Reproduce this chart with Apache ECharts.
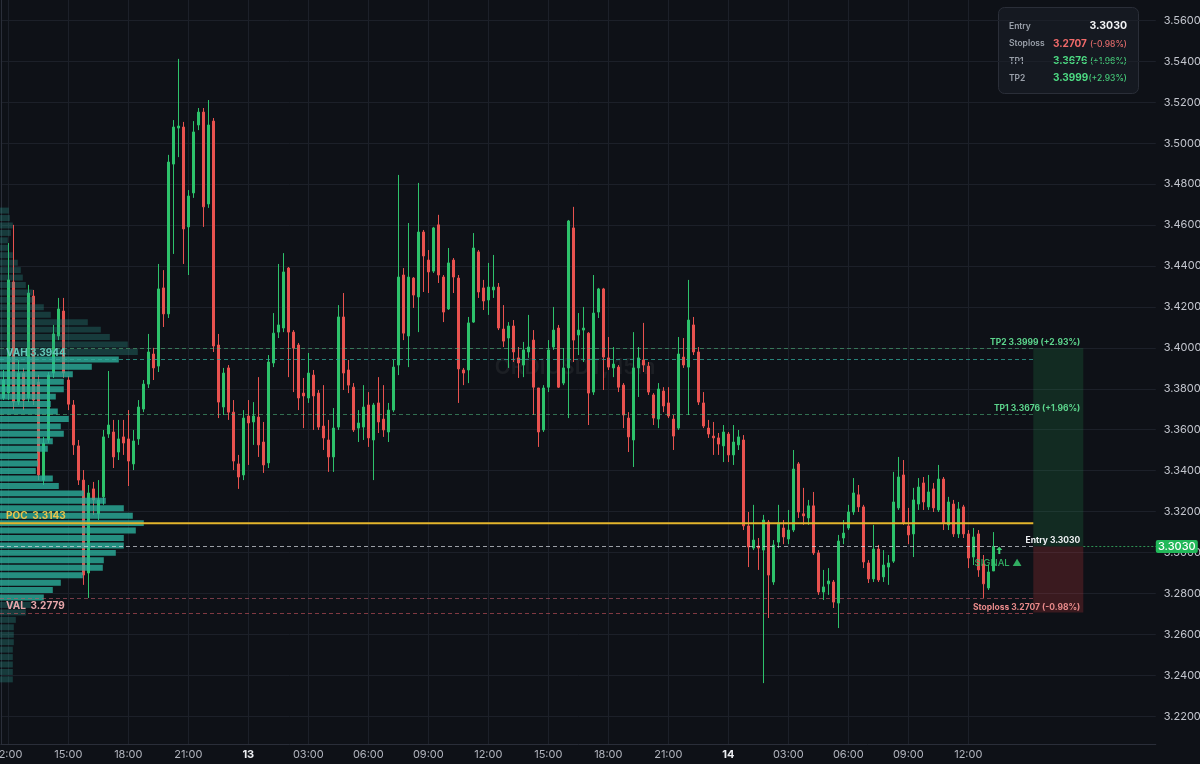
<!DOCTYPE html>
<html><head><meta charset="utf-8">
<script src="https://cdn.jsdelivr.net/npm/echarts@6/dist/echarts.min.js"></script>
<style>html,body{margin:0;padding:0;background:#0e1117;}#chart{width:1200px;height:764px;}</style>
</head><body><div id="chart"></div>
<script>
// ---------- DATA ----------
const symbolName = 'ORDIUSDT, 15m';
const startDay = 12, startHour = 11, startMinute = 45, stepMinutes = 15;
const futureSlots = 32;

const opens = [3.3755,3.3779,3.4322,3.3735,3.3877,3.3755,3.4253,3.3833,3.3354,3.3550,3.3877,3.4058,3.4180,3.3843,3.3721,3.3521,3.3354,3.2900,3.3311,3.3189,
3.3272,3.3579,3.3589,3.3491,3.3565,3.3555,3.3433,3.3555,3.3701,3.3823,3.3970,3.3911,3.4293,3.4166,3.4898,3.5074,3.5079,3.4591,3.4757,3.5089,
3.5152,3.4703,3.5108,3.4014,3.3711,3.3902,3.3686,3.3433,3.3379,3.3667,3.3638,3.3662,3.3540,3.3438,3.3926,3.4077,3.4097,3.4390,3.4077,3.4014,
3.3779,3.3755,3.3867,3.3779,3.3618,3.3550,3.3467,3.3613,3.4151,3.3892,3.3808,3.3608,3.3613,3.3721,3.3550,3.3731,3.3652,3.3589,3.3696,3.3916,
3.4356,3.4058,3.4341,3.4249,3.4566,3.4429,3.4375,3.4601,3.4346,3.4190,3.4429,3.4341,3.3892,3.3892,3.4126,3.4469,3.4293,3.4234,3.4283,3.4297,
3.4092,3.4048,3.4107,3.3951,3.3916,3.3980,3.4038,3.3804,3.3599,3.3808,3.4004,3.4097,3.3828,3.3902,3.4586,3.4063,3.4087,3.4072,3.3784,3.4175,
3.4288,3.3951,3.3902,3.3906,3.3818,3.3657,3.3550,3.3902,3.3941,3.3911,3.3770,3.3652,3.3789,3.3731,3.3652,3.3608,3.3955,3.3906,3.4112,3.3980,
3.3731,3.3608,3.3569,3.3560,3.3521,3.3579,3.3477,3.3526,3.3550,3.3130,3.3022,3.3032,3.3012,3.3149,3.2856,3.3051,3.3120,3.3066,3.3110,3.3433,
3.3189,3.3169,3.3228,3.2998,3.2807,3.2847,3.2856,3.2753,3.3071,3.3120,3.3198,3.3282,3.3223,3.2949,3.2871,3.3017,3.2881,3.2929,3.2958,3.3218,
3.3379,3.3130,3.3091,3.3237,3.3340,3.3223,3.3311,3.3208,3.3359,3.3135,3.3237,3.3091,3.3223,3.3091,3.2978,3.3091,3.2944,3.2827,3.2910];

const closes = [3.3843,3.4332,3.3735,3.3877,3.3745,3.4268,3.3745,3.3379,3.3535,3.3867,3.4068,3.4190,3.3877,3.3725,3.3526,3.3354,3.2890,3.3291,3.3257,3.3257,
3.3565,3.3623,3.3467,3.3555,3.3535,3.3447,3.3545,3.3711,3.3823,3.3980,3.3902,3.4288,3.4166,3.4908,3.5079,3.5084,3.4581,3.4742,3.5055,3.5152,
3.4689,3.5089,3.4009,3.3735,3.3877,3.3686,3.3447,3.3369,3.3657,3.3633,3.3667,3.3526,3.3428,3.3931,3.4072,3.4112,3.4371,3.4077,3.3999,3.3755,
3.3765,3.3877,3.3765,3.3613,3.3560,3.3467,3.3608,3.4151,3.3877,3.3818,3.3599,3.3633,3.3711,3.3560,3.3721,3.3638,3.3599,3.3696,3.3906,3.4346,
3.4072,3.4346,3.4258,3.4566,3.4449,3.4371,3.4586,3.4356,3.4175,3.4415,3.4346,3.3897,3.3877,3.4122,3.4488,3.4273,3.4229,3.4297,3.4297,3.4097,
3.4033,3.4107,3.3980,3.3926,3.3990,3.4004,3.3808,3.3589,3.3804,3.3990,3.4087,3.3808,3.3902,3.4620,3.4038,3.4087,3.4097,3.3779,3.4170,3.4288,
3.3955,3.3906,3.3921,3.3808,3.3672,3.3565,3.3902,3.3951,3.3916,3.3784,3.3657,3.3799,3.3716,3.3667,3.3569,3.3970,3.3916,3.4136,3.3980,3.3735,
3.3618,3.3579,3.3560,3.3530,3.3589,3.3477,3.3540,3.3565,3.3130,3.3027,3.3061,3.3022,3.3159,3.2890,3.3037,3.3145,3.3076,3.3110,3.3408,3.3198,
3.3179,3.3228,3.2998,3.2807,3.2832,3.2861,3.2758,3.3056,3.3095,3.3198,3.3291,3.3223,3.2954,3.2871,3.3017,3.2866,3.2939,3.2949,3.3247,3.3369,
3.3145,3.3086,3.3257,3.3320,3.3247,3.3296,3.3218,3.3359,3.3145,3.3247,3.3091,3.3213,3.3091,3.2973,3.3076,3.2915,3.2847,3.2905,3.3030];

const lows = [3.3745,3.3745,3.3696,3.3721,3.3696,3.3735,3.3721,3.3354,3.3330,3.3535,3.3853,3.4038,3.3853,3.3696,3.3477,3.3330,3.2842,3.2778,3.3184,3.3159,
3.3233,3.3560,3.3413,3.3452,3.3477,3.3325,3.3403,3.3526,3.3686,3.3804,3.3843,3.3882,3.4102,3.4146,3.4459,3.4932,3.4410,3.4356,3.4733,3.5064,
3.4591,3.4684,3.3980,3.3657,3.3672,3.3648,3.3403,3.3311,3.3354,3.3428,3.3526,3.3467,3.3389,3.3413,3.3906,3.4048,3.4077,3.3857,3.3784,3.3696,
3.3608,3.3731,3.3599,3.3599,3.3501,3.3394,3.3394,3.3599,3.3794,3.3779,3.3589,3.3540,3.3550,3.3516,3.3354,3.3584,3.3565,3.3540,3.3686,3.3867,
3.4038,3.3906,3.4195,3.4077,3.4273,3.4268,3.4366,3.4317,3.4126,3.4185,3.4268,3.3731,3.3818,3.3828,3.4122,3.4244,3.4185,3.4161,3.4244,3.4087,
3.4004,3.3902,3.3931,3.3853,3.3857,3.3951,3.3672,3.3516,3.3589,3.3784,3.3990,3.3804,3.3818,3.3657,3.3931,3.3965,3.3931,3.3623,3.3770,3.4146,
3.3794,3.3892,3.3857,3.3784,3.3608,3.3491,3.3418,3.3760,3.3882,3.3770,3.3623,3.3608,3.3686,3.3657,3.3501,3.3599,3.3902,3.3672,3.3965,3.3721,
3.3608,3.3560,3.3477,3.3477,3.3442,3.3442,3.3428,3.3501,3.3110,3.2929,3.3012,3.2915,3.2362,3.2680,3.2842,3.3022,3.3041,3.3041,3.3100,3.3169,
3.3135,3.3135,3.2988,3.2793,3.2768,3.2793,3.2729,3.2631,3.3041,3.3110,3.3184,3.3198,3.2924,3.2851,3.2856,3.2856,3.2856,3.2842,3.2949,3.3208,
3.3135,3.3041,3.2978,3.3208,3.3208,3.3208,3.3198,3.3198,3.3110,3.3110,3.3076,3.3071,3.3071,3.2924,3.2939,3.2881,3.2778,3.2817,3.2910];

const highs = [3.3892,3.4512,3.4601,3.3941,3.3902,3.4308,3.4283,3.3867,3.3565,3.3882,3.4112,3.4244,3.4244,3.3863,3.3745,3.3550,3.3403,3.3330,3.3345,3.3354,
3.3599,3.3887,3.3648,3.3648,3.3648,3.3696,3.3599,3.3745,3.3843,3.4068,3.4000,3.4410,3.4380,3.4943,3.5113,3.5412,3.5104,3.4771,3.5108,3.5172,
3.5172,3.5211,3.5123,3.4068,3.3902,3.3916,3.3745,3.3477,3.3696,3.3745,3.3735,3.3857,3.3638,3.3965,3.4170,3.4410,3.4463,3.4395,3.4087,3.4024,
3.3853,3.3975,3.3892,3.3794,3.3818,3.3648,3.3706,3.4209,3.4268,3.3941,3.3828,3.3696,3.3818,3.3784,3.3731,3.3857,3.3818,3.3731,3.3941,3.4845,
3.4390,3.4610,3.4346,3.4806,3.4576,3.4478,3.4591,3.4650,3.4356,3.4488,3.4439,3.4356,3.3902,3.4151,3.4561,3.4478,3.4332,3.4415,3.4454,3.4317,
3.4209,3.4126,3.4136,3.4004,3.4029,3.4161,3.4087,3.3804,3.3818,3.4038,3.4200,3.4112,3.3999,3.4625,3.4689,3.4170,3.4200,3.4077,3.4356,3.4293,
3.4293,3.4053,3.4004,3.3916,3.3828,3.3686,3.4077,3.4004,3.4122,3.3931,3.3779,3.3828,3.3808,3.3808,3.3672,3.4053,3.4048,3.4332,3.4151,3.4004,
3.3784,3.3648,3.3638,3.3584,3.3623,3.3589,3.3623,3.3599,3.3574,3.3198,3.3233,3.3071,3.3184,3.3159,3.3061,3.3233,3.3159,3.3208,3.3501,3.3442,
3.3316,3.3257,3.3296,3.3012,3.2915,3.2924,3.2866,3.3086,3.3159,3.3233,3.3364,3.3330,3.3233,3.2963,3.3135,3.3037,3.3012,3.2988,3.3394,3.3467,
3.3452,3.3218,3.3316,3.3364,3.3369,3.3379,3.3340,3.3428,3.3369,3.3272,3.3257,3.3247,3.3233,3.3110,3.3120,3.3110,3.2988,3.2939,3.3100];

// price axis ticks (labels on the right)
const yTicks = [3.22,3.24,3.26,3.28,3.30,3.32,3.34,3.36,3.38,3.40,3.42,3.44,3.46,3.48,3.50,3.52,3.54,3.56];
const yMin = 3.20645, yMax = 3.56997;

// volume profile (top bin first), price range of the profile
const profileVolumes = [8,9,12,10,7,8,12,17,20,22,25,32,33,43,50,87,100,109,127,137,
118,91,72,63,63,55,50,57,68,60,63,52,47,37,37,35,52,58,83,105,
123,132,143,135,123,123,115,103,102,82,60,52,43,30,25,15,13,13,13,12,
12,12,12,12];
const profileHigh = 3.4689, profileLow = 3.2362;
const VAH = 3.3944, POC = 3.3143, VAL = 3.2779;

// trade levels
const entry = 3.3030, stoploss = 3.2707, tp1 = 3.3676, tp2 = 3.3999;
const levelNames  = ['TP2', 'VAH', 'TP1', 'POC', 'Entry', 'VAL', 'Stoploss'];
const levelPrices = [tp2, VAH, tp1, POC, entry, VAL, stoploss];

// ---------- BUILD ----------
const pad = n => (n < 10 ? '0' : '') + n;
const nCandles = opens.length;
const categories = [];
const timeInfo = [];
for (let k = 0; k < nCandles + futureSlots; k++) {
  const tot = startHour * 60 + startMinute + k * stepMinutes;
  const day = startDay + Math.floor(tot / 1440);
  const h = Math.floor((tot % 1440) / 60), m = tot % 60;
  timeInfo.push({day, h, m});
  categories.push(day + ' ' + pad(h) + ':' + pad(m));
}
const isMajor = i => i < nCandles && timeInfo[i].m === 0 && timeInfo[i].h % 3 === 0;
const majorIdx = [];
for (let i = 0; i < nCandles; i++) if (isMajor(i)) majorIdx.push(i);

const candleData = opens.map((o, i) => [o, closes[i], lows[i], highs[i]]);
const binSize = (profileHigh - profileLow) / profileVolumes.length;
const profileData = profileVolumes.map((v, k) => [v, profileHigh - (k + 1) * binSize, profileHigh - k * binSize]);
const pct = p => { const v = (p / entry - 1) * 100; return (v >= 0 ? '+' : '') + v.toFixed(2) + '%'; };
const fmt = p => p.toFixed(4);

const zoneStart = 206, zoneEnd = 216;
const signalIndex = nCandles - 1;

const GREEN = '#2dc26b', RED = '#e8524f';
const FONT = 'Inter, Roboto, "Noto Sans", sans-serif';
const levelStyle = {
  TP2:      {stroke:'rgba(80,190,130,0.55)', dash:[4,3], w:1, side:'right', color:'#5cd68d', text:'TP2 ' + fmt(tp2) + ' (' + pct(tp2) + ')'},
  VAH:      {stroke:'rgba(50,170,155,0.75)', dash:[4,3], w:1, side:'left',  color:'#63c7b8', text:'VAH ' + fmt(VAH)},
  TP1:      {stroke:'rgba(80,190,130,0.55)', dash:[4,3], w:1, side:'right', color:'#5cd68d', text:'TP1 ' + fmt(tp1) + ' (' + pct(tp1) + ')'},
  POC:      {stroke:'#e3b52c', dash:null, w:2, side:'left', color:'#e8c44c', text:'POC  ' + fmt(POC)},
  Entry:    {stroke:'rgba(215,220,228,0.7)', dash:[4,3], w:1, side:'right', color:'#eef0f3', text:'Entry ' + fmt(entry)},
  VAL:      {stroke:'rgba(190,90,105,0.6)', dash:[4,3], w:1, side:'left', color:'#e6a6aa', text:'VAL  ' + fmt(VAL), below:true},
  Stoploss: {stroke:'rgba(205,85,95,0.6)', dash:[4,3], w:1, side:'right', color:'#e88a8a', text:'Stoploss ' + fmt(stoploss) + ' (' + pct(stoploss) + ')'}
};

const boxLabel = {fill: '#9aa0aa', fontSize: 8.5, fontWeight: 600, fontFamily: FONT, verticalAlign: 'middle'};
const boxValue = (text, fill) => ({text, fill, fontSize: 10, fontWeight: 'bold', fontFamily: FONT, verticalAlign: 'middle'});
const boxPct = (text, fill) => ({text, fill, fontSize: 8.5, fontWeight: 500, fontFamily: FONT, align: 'right', verticalAlign: 'middle'});

const chart = echarts.init(document.getElementById('chart'), null, {renderer:'canvas'});
const option = {
  backgroundColor: '#0e1117',
  animation: false,
  textStyle: {fontFamily: FONT},
  grid: {left: 0.8, right: 44.2, top: 0, bottom: 20, containLabel: false, outerBoundsMode: 'none'},
  xAxis: [{
    type: 'category', data: categories, boundaryGap: true,
    axisLine: {show: true, lineStyle: {color: '#2a2e39'}},
    axisTick: {show: false},
    splitLine: {show: false},
    axisLabel: {
      interval: (i) => isMajor(i), margin: 5, color: '#b2b5be', fontSize: 11, fontFamily: FONT,
      formatter: (v, i) => { const t = timeInfo[i]; return t.h === 0 ? '{d|' + t.day + '}' : pad(t.h) + ':00'; },
      rich: {d: {color: '#eceef2', fontWeight: 'bold', fontSize: 11, fontFamily: FONT}}
    }
  }, {
    type: 'value', min: 0, max: 1155, show: false, gridIndex: 0
  }],
  yAxis: {
    type: 'value', position: 'right', min: yMin, max: yMax, scale: true,
    axisLine: {show: true, lineStyle: {color: '#2a2e39'}},
    axisTick: {show: false, customValues: yTicks},
    axisLabel: {customValues: yTicks, formatter: v => v.toFixed(4), color: '#c3c6ce', fontSize: 11, margin: 8, fontFamily: FONT},
    splitLine: {show: true, lineStyle: {color: '#1c2029', width: 1}}
  },
  graphic: [
    {type: 'text', x: 575, y: 368, z: 0, silent: true,
     style: {text: symbolName, fill: 'rgba(255,255,255,0.06)', fontSize: 21, fontWeight: 600, fontFamily: FONT, align: 'center', verticalAlign: 'middle'}},
    {type: 'group', x: 998, y: 7, z: 100, children: [
      {type: 'rect', shape: {x: 0.5, y: 0.5, width: 140, height: 86, r: 6}, style: {fill: '#151921', stroke: '#2a2e38', lineWidth: 1}},
      {type: 'text', x: 11, y: 19, style: Object.assign({text: 'Entry'}, boxLabel)},
      {type: 'text', x: 129, y: 19, style: Object.assign(boxValue(fmt(entry), '#f2f3f5'), {align: 'right', fontSize: 10.5})},
      {type: 'text', x: 11, y: 36.5, style: Object.assign({text: 'Stoploss'}, boxLabel)},
      {type: 'text', x: 55, y: 36.5, style: boxValue(fmt(stoploss), '#f06a6a')},
      {type: 'text', x: 129, y: 37, style: boxPct('(' + pct(stoploss) + ')', '#e06a6a')},
      {type: 'text', x: 11, y: 54, style: Object.assign({text: 'TP1'}, boxLabel)},
      {type: 'text', x: 55, y: 54, style: boxValue(fmt(tp1), '#4ddb83')},
      {type: 'text', x: 129, y: 54.5, style: boxPct('(' + pct(tp1) + ')', '#45c878')},
      {type: 'text', x: 11, y: 71, style: Object.assign({text: 'TP2'}, boxLabel)},
      {type: 'text', x: 55, y: 71, style: boxValue(fmt(tp2), '#4ddb83')},
      {type: 'text', x: 129, y: 71.5, style: boxPct('(' + pct(tp2) + ')', '#45c878')}
    ]}
  ],
  series: [
    { // vertical time grid
      type: 'custom', name: 'timeGrid', silent: true, z: 0,
      data: majorIdx.map(i => [i, yMin]), encode: {x: 0, y: 1},
      renderItem: (params, api) => {
        const cs = params.coordSys; const x = Math.round(api.coord([api.value(0), yMin])[0]) + 0.5;
        return {type: 'line', shape: {x1: x, y1: cs.y, x2: x, y2: cs.y + cs.height}, style: {stroke: '#1c2029', lineWidth: 1}};
      }
    },
    { // TP / SL zones
      type: 'custom', name: 'zones', silent: true, z: 1,
      data: [[zoneStart, zoneEnd, tp2, entry, 0], [zoneStart, zoneEnd, entry, stoploss, 1]],
      encode: {x: [0, 1], y: [2, 3]},
      renderItem: (params, api) => {
        const a = api.coord([api.value(0), api.value(2)]), b = api.coord([api.value(1), api.value(3)]);
        const fill = api.value(4) === 0 ? 'rgba(40,170,90,0.17)' : 'rgba(220,60,65,0.22)';
        return {type: 'rect', shape: {x: a[0], y: a[1], width: b[0] - a[0], height: b[1] - a[1]}, style: {fill}};
      }
    },
    {
      type: 'candlestick', name: 'ORDIUSDT', data: candleData, barWidth: 3, z: 2,
      itemStyle: {color: GREEN, color0: RED, borderColor: GREEN, borderColor0: RED, borderWidth: 1}
    },
    { // volume profile
      type: 'custom', name: 'Volume profile', xAxisIndex: 1, yAxisIndex: 0, silent: true, z: 5,
      data: profileData, encode: {x: 0, y: [1, 2]},
      renderItem: (params, api) => {
        const v = api.value(0), lo = api.value(1), hi = api.value(2);
        const a = api.coord([0, hi]), b = api.coord([v, lo]);
        const h = b[1] - a[1]; const mid = (lo + hi) / 2;
        const inVA = mid >= VAL - 1e-4 && mid <= VAH + 1e-4;
        return {type: 'rect', shape: {x: 0, y: a[1] + h * 0.1, width: b[0], height: h * 0.8},
          style: {fill: inVA ? 'rgba(44,178,158,0.78)' : 'rgba(44,150,140,0.32)'}};
      }
    },
    { // levels
      type: 'custom', name: 'levels', silent: true, z: 6,
      data: levelPrices.map((p, i) => [zoneStart, p, i]), encode: {x: 0, y: 1},
      renderItem: (params, api) => {
        const cs = params.coordSys; const name = levelNames[api.value(2)]; const st = levelStyle[name];
        const pt = api.coord([zoneStart, api.value(1)]);
        const endPt = api.coord([zoneEnd, api.value(1)]);
        const y = st.w === 1 ? Math.round(pt[1]) + 0.5 : pt[1];
        const children = [{type: 'line', shape: {x1: 0, y1: y, x2: pt[0], y2: y},
          style: {stroke: st.stroke, lineWidth: st.w, lineDash: st.dash || null}}];
        if (st.side === 'right') {
          children.push({type: 'text', style: {text: st.text, x: endPt[0] - 3, y: y - 1.5, fill: st.color, fontSize: 8.5, fontWeight: 'bold', fontFamily: FONT, align: 'right', verticalAlign: 'bottom'}});
        } else {
          children.push({type: 'text', style: {text: st.text, x: 6, y: st.below ? y + 2.5 : y - 2, fill: st.color, fontSize: 10, fontWeight: 'bold', fontFamily: FONT, align: 'left', verticalAlign: st.below ? 'top' : 'bottom'}});
        }
        if (name === 'Entry') {
          children.push({type: 'line', shape: {x1: endPt[0], y1: y, x2: cs.x + cs.width, y2: y}, style: {stroke: 'rgba(60,200,110,0.7)', lineWidth: 1, lineDash: [2, 2]}});
          const tx = cs.x + cs.width;
          children.push({type: 'rect', shape: {x: tx, y: pt[1] - 6.5, width: 42, height: 13, r: 2}, style: {fill: '#22b85a'}});
          children.push({type: 'text', style: {text: fmt(entry), x: tx + 21, y: pt[1], fill: '#ffffff', fontSize: 11, fontWeight: 500, fontFamily: FONT, align: 'center', verticalAlign: 'middle'}});
        }
        return {type: 'group', children};
      }
    },
    { // signal marker
      type: 'custom', name: 'signal', silent: true, z: 7,
      data: [[signalIndex, closes[signalIndex]]], encode: {x: 0, y: 1},
      renderItem: (params, api) => {
        const p = api.coord([api.value(0), api.value(1)]);
        const ax = p[0] + 6, ay = p[1] + 4;
        return {type: 'group', children: [
          {type: 'polygon', shape: {points: [[ax, ay - 4], [ax + 3, ay - 0.5], [ax + 1, ay - 0.5], [ax + 1, ay + 3.5], [ax - 1, ay + 3.5], [ax - 1, ay - 0.5], [ax - 3, ay - 0.5]]}, style: {fill: '#3ccf73'}},
          {type: 'text', style: {text: 'SIGNAL ▲', x: p[0] + 5, y: p[1] + 17, fill: 'rgba(55,200,110,0.85)', fontSize: 9.5, fontWeight: 500, fontFamily: FONT, align: 'center', verticalAlign: 'middle'}}
        ]};
      }
    }
  ]
};
chart.setOption(option);
</script>
</body></html>
